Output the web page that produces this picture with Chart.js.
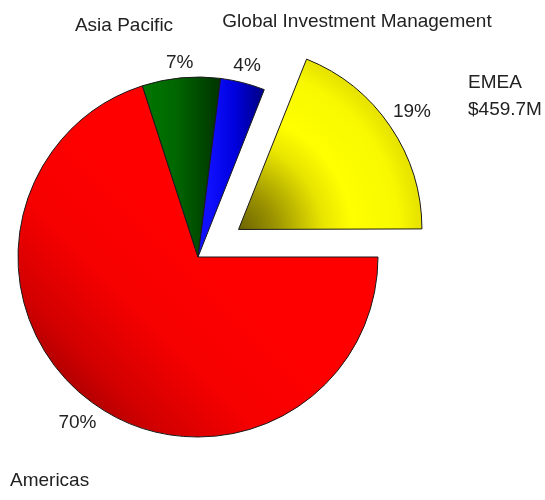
<!DOCTYPE html>
<html>
<head>
<meta charset="utf-8">
<title>Revenue by Region</title>
<script src="https://cdn.jsdelivr.net/npm/chart.js@4.4.1/dist/chart.umd.min.js"></script>
<style>
  body { margin: 0; background: #ffffff; }
  #wrap { width: 545px; height: 500px; }
</style>
</head>
<body>
<div id="wrap"><canvas id="regionPie" width="545" height="500"></canvas></div>
<script>
// Share of revenue per region (percent)
const regions = ['Americas', 'Asia Pacific', 'Global Investment Management', 'EMEA'];
const shares = [70, 7, 4, 19];
const amountLabels = ['', '', '', '$459.7M'];
const explode = [0, 0, 0, 196];

const pieRadius = 180;
const labelFont = '19px "Liberation Sans", Arial, sans-serif';
const textColor = '#222222';

// Shaded fill for each slice, built around the pie centre
function sliceFill(context) {
    const chart = context.chart;
    const area = chart.chartArea;
    if (!area) return '#cccccc';
    const c = chart.ctx;
    const cx = (area.left + area.right) / 2;
    const cy = (area.top + area.bottom) / 2;
    const r = pieRadius;
    let g;
    switch (context.dataIndex) {
        case 0: // Americas - darker toward lower left
            g = c.createLinearGradient(cx + 0.05 * r, cy - 0.05 * r, cx - 0.75 * r, cy + 0.75 * r);
            g.addColorStop(0, '#ff0000');
            g.addColorStop(0.45, '#f60000');
            g.addColorStop(0.8, '#d20000');
            g.addColorStop(1, '#a80000');
            return g;
        case 1: // Asia Pacific
            g = c.createLinearGradient(cx - 0.32 * r, 0, cx + 0.1 * r, 0);
            g.addColorStop(0, '#007800');
            g.addColorStop(0.45, '#006800');
            g.addColorStop(1, '#003800');
            return g;
        case 2: // Global Investment Management
            g = c.createLinearGradient(cx + 0.06 * r, 0, cx + 0.34 * r, 0);
            g.addColorStop(0, '#1010ff');
            g.addColorStop(0.5, '#0000e0');
            g.addColorStop(1, '#000090');
            return g;
        default: // EMEA - olive at the point, bright body
            g = c.createRadialGradient(cx - 0.06 * r, cy + 0.04 * r, 0, cx, cy, r);
            g.addColorStop(0, '#5a5200');
            g.addColorStop(0.25, '#9a9200');
            g.addColorStop(0.5, '#e8e400');
            g.addColorStop(0.65, '#ffff00');
            g.addColorStop(0.9, '#f8f800');
            g.addColorStop(1, '#e8e400');
            return g;
    }
}

// Percent labels on each slice plus the region names
const sliceLabels = {
    id: 'sliceLabels',
    afterDraw(chart) {
        const ctx = chart.ctx;
        const meta = chart.getDatasetMeta(0);
        const total = shares.reduce((a, b) => a + b, 0);
        const area = chart.chartArea;
        const cx = (area.left + area.right) / 2;
        const cy = (area.top + area.bottom) / 2;

        ctx.save();
        ctx.font = labelFont;
        ctx.fillStyle = textColor;
        ctx.textBaseline = 'middle';
        ctx.textAlign = 'center';

        meta.data.forEach((arc, i) => {
            const p = arc.getProps(['x', 'y', 'startAngle', 'endAngle', 'outerRadius'], true);
            const mid = (p.startAngle + p.endAngle) / 2;
            const text = Math.round(shares[i] / total * 100) + '%';
            const w = ctx.measureText(text).width;
            // keep the text box clear of the rim
            const dist = explode[i] / 4 + p.outerRadius + 14 + Math.abs(Math.cos(mid)) * w / 2;
            const x = p.x + Math.cos(mid) * dist;
            const y = p.y + Math.sin(mid) * dist;
            ctx.fillText(text, x, y);
        });

        // region names, placed round the pie
        const names = [
            { dx: -188, dy: 224, align: 'left' },
            { dx: -74, dy: -231, align: 'center' },
            { dx: 159, dy: -235, align: 'center' },
            { dx: 270, dy: -174, align: 'left' }
        ];
        names.forEach((n, i) => {
            ctx.textAlign = n.align;
            ctx.fillText(regions[i], cx + n.dx, cy + n.dy);
            if (amountLabels[i]) {
                ctx.fillText(amountLabels[i], cx + n.dx, cy + n.dy + 27);
            }
        });
        ctx.restore();
    }
};

new Chart(document.getElementById('regionPie'), {
    type: 'pie',
    data: {
        labels: regions,
        datasets: [{
            data: shares,
            backgroundColor: sliceFill,
            borderColor: '#1a1a1a',
            borderWidth: 1,
            offset: explode
        }]
    },
    options: {
        responsive: false,
        animation: false,
        events: [],
        rotation: 90,
        radius: pieRadius,
        layout: { padding: { left: 0, right: 149, top: 14, bottom: 0 } },
        plugins: {
            legend: { display: false },
            tooltip: { enabled: false }
        }
    },
    plugins: [sliceLabels]
});
</script>
</body>
</html>
